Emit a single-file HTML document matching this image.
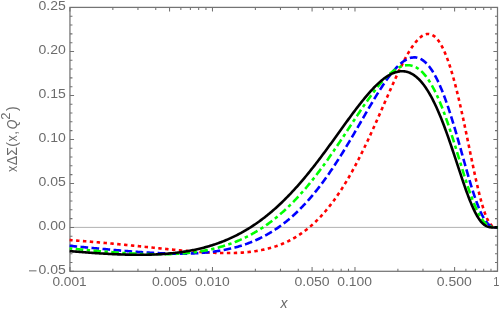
<!DOCTYPE html>
<html><head><meta charset="utf-8"><title>plot</title>
<style>
html,body{margin:0;padding:0;background:#fff;}
body{width:501px;height:312px;overflow:hidden;font-family:"Liberation Sans",sans-serif;}
svg{display:block;}
text{filter:grayscale(1);font-family:"Liberation Sans",sans-serif;fill:#6b6b6b;}
</style></head><body>
<svg width="501" height="312" viewBox="0 0 501 312">
<rect width="501" height="312" fill="#fff"/>

<line x1="70.0" y1="227.4" x2="497.5" y2="227.4" stroke="#a8a8a8" stroke-width="0.9"/>
<g stroke="#727272" stroke-width="1.05" fill="none">
<rect x="69.95" y="7.40" width="427.55" height="263.90" stroke-width="1.25" stroke="#747474"/>
<path d="M69.95 271.38 h4.1 M497.50 271.38 h-4.1"/>
<path d="M69.95 262.59 h2.5 M497.50 262.59 h-2.5"/>
<path d="M69.95 253.79 h2.5 M497.50 253.79 h-2.5"/>
<path d="M69.95 244.99 h2.5 M497.50 244.99 h-2.5"/>
<path d="M69.95 236.20 h2.5 M497.50 236.20 h-2.5"/>
<path d="M69.95 227.40 h4.1 M497.50 227.40 h-4.1"/>
<path d="M69.95 218.60 h2.5 M497.50 218.60 h-2.5"/>
<path d="M69.95 209.81 h2.5 M497.50 209.81 h-2.5"/>
<path d="M69.95 201.01 h2.5 M497.50 201.01 h-2.5"/>
<path d="M69.95 192.21 h2.5 M497.50 192.21 h-2.5"/>
<path d="M69.95 183.42 h4.1 M497.50 183.42 h-4.1"/>
<path d="M69.95 174.62 h2.5 M497.50 174.62 h-2.5"/>
<path d="M69.95 165.82 h2.5 M497.50 165.82 h-2.5"/>
<path d="M69.95 157.03 h2.5 M497.50 157.03 h-2.5"/>
<path d="M69.95 148.23 h2.5 M497.50 148.23 h-2.5"/>
<path d="M69.95 139.43 h4.1 M497.50 139.43 h-4.1"/>
<path d="M69.95 130.64 h2.5 M497.50 130.64 h-2.5"/>
<path d="M69.95 121.84 h2.5 M497.50 121.84 h-2.5"/>
<path d="M69.95 113.04 h2.5 M497.50 113.04 h-2.5"/>
<path d="M69.95 104.25 h2.5 M497.50 104.25 h-2.5"/>
<path d="M69.95 95.45 h4.1 M497.50 95.45 h-4.1"/>
<path d="M69.95 86.65 h2.5 M497.50 86.65 h-2.5"/>
<path d="M69.95 77.86 h2.5 M497.50 77.86 h-2.5"/>
<path d="M69.95 69.06 h2.5 M497.50 69.06 h-2.5"/>
<path d="M69.95 60.26 h2.5 M497.50 60.26 h-2.5"/>
<path d="M69.95 51.47 h4.1 M497.50 51.47 h-4.1"/>
<path d="M69.95 42.67 h2.5 M497.50 42.67 h-2.5"/>
<path d="M69.95 33.87 h2.5 M497.50 33.87 h-2.5"/>
<path d="M69.95 25.08 h2.5 M497.50 25.08 h-2.5"/>
<path d="M69.95 16.28 h2.5 M497.50 16.28 h-2.5"/>
<path d="M69.95 7.48 h4.1 M497.50 7.48 h-4.1"/>
<path d="M69.95 271.3 v-4.2 M69.95 7.4 v4.2"/>
<path d="M112.85 271.3 v-2.6 M112.85 7.4 v2.6"/>
<path d="M137.95 271.3 v-2.6 M137.95 7.4 v2.6"/>
<path d="M155.75 271.3 v-2.6 M155.75 7.4 v2.6"/>
<path d="M169.56 271.3 v-4.2 M169.56 7.4 v4.2"/>
<path d="M180.85 271.3 v-2.6 M180.85 7.4 v2.6"/>
<path d="M190.39 271.3 v-2.6 M190.39 7.4 v2.6"/>
<path d="M198.66 271.3 v-2.6 M198.66 7.4 v2.6"/>
<path d="M205.95 271.3 v-2.6 M205.95 7.4 v2.6"/>
<path d="M212.47 271.3 v-4.2 M212.47 7.4 v4.2"/>
<path d="M255.37 271.3 v-2.6 M255.37 7.4 v2.6"/>
<path d="M280.46 271.3 v-2.6 M280.46 7.4 v2.6"/>
<path d="M298.27 271.3 v-2.6 M298.27 7.4 v2.6"/>
<path d="M312.08 271.3 v-4.2 M312.08 7.4 v4.2"/>
<path d="M323.37 271.3 v-2.6 M323.37 7.4 v2.6"/>
<path d="M332.91 271.3 v-2.6 M332.91 7.4 v2.6"/>
<path d="M341.17 271.3 v-2.6 M341.17 7.4 v2.6"/>
<path d="M348.46 271.3 v-2.6 M348.46 7.4 v2.6"/>
<path d="M354.98 271.3 v-4.2 M354.98 7.4 v4.2"/>
<path d="M397.89 271.3 v-2.6 M397.89 7.4 v2.6"/>
<path d="M422.98 271.3 v-2.6 M422.98 7.4 v2.6"/>
<path d="M440.79 271.3 v-2.6 M440.79 7.4 v2.6"/>
<path d="M454.60 271.3 v-4.2 M454.60 7.4 v4.2"/>
<path d="M465.88 271.3 v-2.6 M465.88 7.4 v2.6"/>
<path d="M475.42 271.3 v-2.6 M475.42 7.4 v2.6"/>
<path d="M483.69 271.3 v-2.6 M483.69 7.4 v2.6"/>
<path d="M490.98 271.3 v-2.6 M490.98 7.4 v2.6"/>
</g>
<g fill="none" stroke-width="2.6" stroke-linejoin="round">
<path d="M69.60 240.06 L70.67 240.14 L71.75 240.22 L72.82 240.30 L73.89 240.38 L74.96 240.47 L76.04 240.55 L77.11 240.63 L78.18 240.72 L79.26 240.80 L80.33 240.88 L81.40 240.97 L82.48 241.06 L83.55 241.14 L84.62 241.23 L85.69 241.32 L86.77 241.40 L87.84 241.49 L88.91 241.58 L89.99 241.67 L91.06 241.76 L92.13 241.85 L93.20 241.94 L94.28 242.03 L95.35 242.12 L96.42 242.22 L97.50 242.31 L98.57 242.40 L99.64 242.50 L100.72 242.59 L101.79 242.69 L102.86 242.78 L103.93 242.88 L105.01 242.97 L106.08 243.07 L107.15 243.17 L108.23 243.26 L109.30 243.36 L110.37 243.46 L111.44 243.56 L112.52 243.66 L113.59 243.76 L114.66 243.86 L115.74 243.96 L116.81 244.06 L117.88 244.16 L118.95 244.26 L120.03 244.37 L121.10 244.47 L122.17 244.57 L123.25 244.68 L124.32 244.78 L125.39 244.88 L126.47 244.99 L127.54 245.09 L128.61 245.20 L129.68 245.30 L130.76 245.41 L131.83 245.52 L132.90 245.62 L133.98 245.73 L135.05 245.84 L136.12 245.94 L137.19 246.05 L138.27 246.16 L139.34 246.27 L140.41 246.38 L141.49 246.48 L142.56 246.59 L143.63 246.70 L144.71 246.81 L145.78 246.92 L146.85 247.03 L147.92 247.14 L149.00 247.25 L150.07 247.36 L151.14 247.47 L152.22 247.57 L153.29 247.68 L154.36 247.79 L155.43 247.90 L156.51 248.01 L157.58 248.12 L158.65 248.23 L159.73 248.34 L160.80 248.45 L161.87 248.56 L162.95 248.66 L164.02 248.77 L165.09 248.88 L166.16 248.99 L167.24 249.09 L168.31 249.20 L169.38 249.31 L170.46 249.41 L171.53 249.52 L172.60 249.62 L173.67 249.73 L174.75 249.83 L175.82 249.93 L176.89 250.04 L177.97 250.14 L179.04 250.24 L180.11 250.34 L181.18 250.44 L182.26 250.54 L183.33 250.63 L184.40 250.73 L185.48 250.83 L186.55 250.92 L187.62 251.01 L188.70 251.11 L189.77 251.20 L190.84 251.29 L191.91 251.37 L192.99 251.46 L194.06 251.55 L195.13 251.63 L196.21 251.71 L197.28 251.79 L198.35 251.87 L199.42 251.95 L200.50 252.03 L201.57 252.10 L202.64 252.17 L203.72 252.24 L204.79 252.31 L205.86 252.37 L206.94 252.43 L208.01 252.49 L209.08 252.55 L210.15 252.61 L211.23 252.66 L212.30 252.71 L213.37 252.76 L214.45 252.80 L215.52 252.84 L216.59 252.88 L217.66 252.92 L218.74 252.95 L219.81 252.98 L220.88 253.00 L221.96 253.02 L223.03 253.04 L224.10 253.06 L225.18 253.06 L226.25 253.07 L227.32 253.07 L228.39 253.07 L229.47 253.06 L230.54 253.05 L231.61 253.03 L232.69 253.01 L233.76 252.99 L234.83 252.96 L235.90 252.92 L236.98 252.88 L238.05 252.83 L239.12 252.78 L240.20 252.72 L241.27 252.66 L242.34 252.59 L243.42 252.51 L244.49 252.43 L245.56 252.34 L246.63 252.24 L247.71 252.14 L248.78 252.02 L249.85 251.91 L250.93 251.78 L252.00 251.65 L253.07 251.51 L254.14 251.36 L255.22 251.20 L256.29 251.04 L257.36 250.86 L258.44 250.68 L259.51 250.49 L260.58 250.29 L261.65 250.07 L262.73 249.85 L263.80 249.62 L264.87 249.38 L265.95 249.13 L267.02 248.87 L268.09 248.60 L269.17 248.32 L270.24 248.02 L271.31 247.72 L272.38 247.40 L273.46 247.07 L274.53 246.73 L275.60 246.38 L276.68 246.01 L277.75 245.63 L278.82 245.24 L279.89 244.83 L280.97 244.41 L282.04 243.98 L283.11 243.53 L284.19 243.06 L285.26 242.59 L286.33 242.09 L287.41 241.58 L288.48 241.06 L289.55 240.52 L290.62 239.96 L291.70 239.39 L292.77 238.80 L293.84 238.19 L294.92 237.56 L295.99 236.92 L297.06 236.26 L298.13 235.58 L299.21 234.88 L300.28 234.17 L301.35 233.43 L302.43 232.67 L303.50 231.90 L304.57 231.10 L305.65 230.29 L306.72 229.45 L307.79 228.59 L308.86 227.71 L309.94 226.81 L311.01 225.88 L312.08 224.94 L313.16 223.97 L314.23 222.98 L315.30 221.96 L316.37 220.93 L317.45 219.86 L318.52 218.78 L319.59 217.67 L320.67 216.53 L321.74 215.37 L322.81 214.19 L323.88 212.98 L324.96 211.74 L326.03 210.48 L327.10 209.19 L328.18 207.88 L329.25 206.54 L330.32 205.17 L331.40 203.78 L332.47 202.36 L333.54 200.91 L334.61 199.44 L335.69 197.93 L336.76 196.40 L337.83 194.85 L338.91 193.26 L339.98 191.65 L341.05 190.01 L342.12 188.34 L343.20 186.64 L344.27 184.92 L345.34 183.16 L346.42 181.38 L347.49 179.57 L348.56 177.74 L349.64 175.87 L350.71 173.98 L351.78 172.06 L352.85 170.12 L353.93 168.15 L355.00 166.15 L356.07 164.12 L357.15 162.07 L358.22 160.00 L359.29 157.90 L360.36 155.77 L361.44 153.62 L362.51 151.45 L363.58 149.25 L364.66 147.03 L365.73 144.79 L366.80 142.53 L367.88 140.25 L368.95 137.95 L370.02 135.63 L371.09 133.29 L372.17 130.94 L373.24 128.57 L374.31 126.19 L375.39 123.79 L376.46 121.38 L377.53 118.96 L378.60 116.53 L379.68 114.10 L380.75 111.65 L381.82 109.20 L382.90 106.75 L383.97 104.30 L385.04 101.84 L386.12 99.39 L387.19 96.94 L388.26 94.50 L389.33 92.06 L390.41 89.64 L391.48 87.23 L392.55 84.83 L393.63 82.45 L394.70 80.09 L395.77 77.75 L396.84 75.43 L397.92 73.15 L398.99 70.89 L400.06 68.67 L401.14 66.48 L402.21 64.33 L403.28 62.23 L404.35 60.17 L405.43 58.16 L406.50 56.20 L407.57 54.30 L408.65 52.46 L409.72 50.68 L410.79 48.97 L411.87 47.33 L412.94 45.76 L414.01 44.27 L415.08 42.87 L416.16 41.55 L417.23 40.32 L418.30 39.19 L419.38 38.15 L420.45 37.22 L421.52 36.40 L422.59 35.68 L423.67 35.09 L424.74 34.61 L425.81 34.25 L426.89 34.03 L427.96 33.93 L429.03 33.97 L430.11 34.15 L431.18 34.48 L432.25 34.95 L433.32 35.57 L434.40 36.34 L435.47 37.28 L436.54 38.37 L437.62 39.62 L438.69 41.05 L439.76 42.63 L440.83 44.39 L441.91 46.32 L442.98 48.43 L444.05 50.71 L445.13 53.16 L446.20 55.79 L447.27 58.59 L448.35 61.57 L449.42 64.72 L450.49 68.04 L451.56 71.52 L452.64 75.18 L453.71 78.99 L454.78 82.96 L455.86 87.09 L456.93 91.35 L458.00 95.76 L459.07 100.30 L460.15 104.96 L461.22 109.74 L462.29 114.62 L463.37 119.59 L464.44 124.64 L465.51 129.75 L466.58 134.92 L467.66 140.12 L468.73 145.35 L469.80 150.58 L470.88 155.79 L471.95 160.97 L473.02 166.10 L474.10 171.15 L475.17 176.11 L476.24 180.96 L477.31 185.66 L478.39 190.21 L479.46 194.57 L480.53 198.73 L481.61 202.66 L482.68 206.35 L483.75 209.77 L484.82 212.90 L485.90 215.74 L486.97 218.27 L488.04 220.47 L489.12 222.35 L490.19 223.91 L491.26 225.15 L492.34 226.08 L493.41 226.73 L494.48 227.13 L495.55 227.34 L496.63 227.40 L497.70 227.40" stroke="#ff0000" stroke-dasharray="3.44 3.44" stroke-dashoffset="0.4"/>
<path d="M69.60 245.85 L70.67 245.95 L71.75 246.05 L72.82 246.15 L73.89 246.25 L74.96 246.35 L76.04 246.45 L77.11 246.55 L78.18 246.65 L79.26 246.76 L80.33 246.86 L81.40 246.96 L82.48 247.06 L83.55 247.16 L84.62 247.26 L85.69 247.36 L86.77 247.46 L87.84 247.56 L88.91 247.66 L89.99 247.76 L91.06 247.86 L92.13 247.97 L93.20 248.07 L94.28 248.17 L95.35 248.27 L96.42 248.37 L97.50 248.47 L98.57 248.57 L99.64 248.67 L100.72 248.76 L101.79 248.86 L102.86 248.96 L103.93 249.06 L105.01 249.16 L106.08 249.26 L107.15 249.35 L108.23 249.45 L109.30 249.55 L110.37 249.65 L111.44 249.74 L112.52 249.84 L113.59 249.93 L114.66 250.03 L115.74 250.12 L116.81 250.22 L117.88 250.31 L118.95 250.40 L120.03 250.49 L121.10 250.58 L122.17 250.68 L123.25 250.77 L124.32 250.85 L125.39 250.94 L126.47 251.03 L127.54 251.12 L128.61 251.20 L129.68 251.29 L130.76 251.37 L131.83 251.46 L132.90 251.54 L133.98 251.62 L135.05 251.70 L136.12 251.78 L137.19 251.86 L138.27 251.94 L139.34 252.02 L140.41 252.09 L141.49 252.17 L142.56 252.24 L143.63 252.31 L144.71 252.38 L145.78 252.45 L146.85 252.52 L147.92 252.58 L149.00 252.65 L150.07 252.71 L151.14 252.77 L152.22 252.83 L153.29 252.89 L154.36 252.95 L155.43 253.00 L156.51 253.05 L157.58 253.10 L158.65 253.15 L159.73 253.20 L160.80 253.25 L161.87 253.29 L162.95 253.33 L164.02 253.37 L165.09 253.41 L166.16 253.44 L167.24 253.47 L168.31 253.50 L169.38 253.53 L170.46 253.55 L171.53 253.58 L172.60 253.60 L173.67 253.61 L174.75 253.63 L175.82 253.64 L176.89 253.65 L177.97 253.65 L179.04 253.65 L180.11 253.65 L181.18 253.65 L182.26 253.64 L183.33 253.63 L184.40 253.62 L185.48 253.60 L186.55 253.58 L187.62 253.56 L188.70 253.53 L189.77 253.50 L190.84 253.46 L191.91 253.42 L192.99 253.38 L194.06 253.33 L195.13 253.28 L196.21 253.22 L197.28 253.16 L198.35 253.10 L199.42 253.03 L200.50 252.96 L201.57 252.88 L202.64 252.79 L203.72 252.71 L204.79 252.61 L205.86 252.51 L206.94 252.41 L208.01 252.30 L209.08 252.19 L210.15 252.07 L211.23 251.94 L212.30 251.81 L213.37 251.67 L214.45 251.53 L215.52 251.38 L216.59 251.23 L217.66 251.06 L218.74 250.90 L219.81 250.72 L220.88 250.54 L221.96 250.35 L223.03 250.16 L224.10 249.96 L225.18 249.75 L226.25 249.53 L227.32 249.31 L228.39 249.08 L229.47 248.84 L230.54 248.59 L231.61 248.34 L232.69 248.07 L233.76 247.80 L234.83 247.52 L235.90 247.24 L236.98 246.94 L238.05 246.64 L239.12 246.32 L240.20 246.00 L241.27 245.67 L242.34 245.33 L243.42 244.98 L244.49 244.62 L245.56 244.25 L246.63 243.87 L247.71 243.48 L248.78 243.08 L249.85 242.66 L250.93 242.24 L252.00 241.81 L253.07 241.37 L254.14 240.92 L255.22 240.45 L256.29 239.97 L257.36 239.49 L258.44 238.99 L259.51 238.48 L260.58 237.95 L261.65 237.42 L262.73 236.87 L263.80 236.31 L264.87 235.74 L265.95 235.15 L267.02 234.56 L268.09 233.95 L269.17 233.32 L270.24 232.68 L271.31 232.03 L272.38 231.37 L273.46 230.69 L274.53 230.00 L275.60 229.29 L276.68 228.57 L277.75 227.83 L278.82 227.08 L279.89 226.31 L280.97 225.53 L282.04 224.74 L283.11 223.93 L284.19 223.10 L285.26 222.26 L286.33 221.40 L287.41 220.53 L288.48 219.64 L289.55 218.73 L290.62 217.81 L291.70 216.87 L292.77 215.92 L293.84 214.95 L294.92 213.96 L295.99 212.96 L297.06 211.94 L298.13 210.90 L299.21 209.84 L300.28 208.77 L301.35 207.68 L302.43 206.57 L303.50 205.45 L304.57 204.30 L305.65 203.14 L306.72 201.97 L307.79 200.77 L308.86 199.56 L309.94 198.33 L311.01 197.08 L312.08 195.81 L313.16 194.53 L314.23 193.23 L315.30 191.91 L316.37 190.57 L317.45 189.21 L318.52 187.84 L319.59 186.45 L320.67 185.04 L321.74 183.62 L322.81 182.17 L323.88 180.71 L324.96 179.24 L326.03 177.74 L327.10 176.23 L328.18 174.70 L329.25 173.16 L330.32 171.60 L331.40 170.02 L332.47 168.43 L333.54 166.82 L334.61 165.20 L335.69 163.56 L336.76 161.91 L337.83 160.24 L338.91 158.56 L339.98 156.86 L341.05 155.16 L342.12 153.44 L343.20 151.70 L344.27 149.96 L345.34 148.20 L346.42 146.43 L347.49 144.65 L348.56 142.86 L349.64 141.07 L350.71 139.26 L351.78 137.45 L352.85 135.62 L353.93 133.80 L355.00 131.96 L356.07 130.12 L357.15 128.28 L358.22 126.43 L359.29 124.58 L360.36 122.73 L361.44 120.87 L362.51 119.02 L363.58 117.17 L364.66 115.32 L365.73 113.47 L366.80 111.63 L367.88 109.79 L368.95 107.96 L370.02 106.13 L371.09 104.32 L372.17 102.51 L373.24 100.72 L374.31 98.94 L375.39 97.17 L376.46 95.42 L377.53 93.68 L378.60 91.97 L379.68 90.27 L380.75 88.60 L381.82 86.95 L382.90 85.32 L383.97 83.72 L385.04 82.15 L386.12 80.60 L387.19 79.09 L388.26 77.61 L389.33 76.17 L390.41 74.77 L391.48 73.40 L392.55 72.08 L393.63 70.79 L394.70 69.56 L395.77 68.37 L396.84 67.23 L397.92 66.14 L398.99 65.10 L400.06 64.12 L401.14 63.20 L402.21 62.33 L403.28 61.53 L404.35 60.79 L405.43 60.12 L406.50 59.52 L407.57 58.99 L408.65 58.53 L409.72 58.14 L410.79 57.83 L411.87 57.60 L412.94 57.46 L414.01 57.39 L415.08 57.41 L416.16 57.52 L417.23 57.72 L418.30 58.01 L419.38 58.39 L420.45 58.86 L421.52 59.44 L422.59 60.11 L423.67 60.88 L424.74 61.76 L425.81 62.73 L426.89 63.81 L427.96 65.00 L429.03 66.29 L430.11 67.69 L431.18 69.20 L432.25 70.81 L433.32 72.53 L434.40 74.37 L435.47 76.31 L436.54 78.36 L437.62 80.52 L438.69 82.79 L439.76 85.16 L440.83 87.64 L441.91 90.23 L442.98 92.91 L444.05 95.70 L445.13 98.59 L446.20 101.57 L447.27 104.64 L448.35 107.80 L449.42 111.05 L450.49 114.38 L451.56 117.79 L452.64 121.27 L453.71 124.82 L454.78 128.43 L455.86 132.09 L456.93 135.80 L458.00 139.55 L459.07 143.34 L460.15 147.16 L461.22 150.99 L462.29 154.83 L463.37 158.68 L464.44 162.51 L465.51 166.33 L466.58 170.11 L467.66 173.86 L468.73 177.56 L469.80 181.20 L470.88 184.77 L471.95 188.26 L473.02 191.65 L474.10 194.94 L475.17 198.11 L476.24 201.15 L477.31 204.06 L478.39 206.82 L479.46 209.43 L480.53 211.87 L481.61 214.14 L482.68 216.23 L483.75 218.14 L484.82 219.86 L485.90 221.38 L486.97 222.72 L488.04 223.87 L489.12 224.84 L490.19 225.63 L491.26 226.25 L492.34 226.71 L493.41 227.04 L494.48 227.25 L495.55 227.36 L496.63 227.40 L497.70 227.40" stroke="#0000ff" stroke-dasharray="7.65 3.4" stroke-dashoffset="0.1"/>
<path d="M69.60 248.45 L70.67 248.55 L71.75 248.66 L72.82 248.76 L73.89 248.86 L74.96 248.96 L76.04 249.06 L77.11 249.16 L78.18 249.26 L79.26 249.36 L80.33 249.46 L81.40 249.56 L82.48 249.66 L83.55 249.76 L84.62 249.86 L85.69 249.96 L86.77 250.06 L87.84 250.16 L88.91 250.25 L89.99 250.35 L91.06 250.45 L92.13 250.54 L93.20 250.64 L94.28 250.73 L95.35 250.83 L96.42 250.92 L97.50 251.01 L98.57 251.11 L99.64 251.20 L100.72 251.29 L101.79 251.38 L102.86 251.47 L103.93 251.56 L105.01 251.65 L106.08 251.73 L107.15 251.82 L108.23 251.90 L109.30 251.99 L110.37 252.07 L111.44 252.16 L112.52 252.24 L113.59 252.32 L114.66 252.40 L115.74 252.48 L116.81 252.55 L117.88 252.63 L118.95 252.70 L120.03 252.78 L121.10 252.85 L122.17 252.92 L123.25 252.99 L124.32 253.06 L125.39 253.13 L126.47 253.19 L127.54 253.26 L128.61 253.32 L129.68 253.38 L130.76 253.44 L131.83 253.50 L132.90 253.56 L133.98 253.61 L135.05 253.66 L136.12 253.71 L137.19 253.76 L138.27 253.81 L139.34 253.85 L140.41 253.90 L141.49 253.94 L142.56 253.98 L143.63 254.02 L144.71 254.05 L145.78 254.08 L146.85 254.11 L147.92 254.14 L149.00 254.17 L150.07 254.19 L151.14 254.21 L152.22 254.23 L153.29 254.24 L154.36 254.25 L155.43 254.26 L156.51 254.27 L157.58 254.27 L158.65 254.28 L159.73 254.27 L160.80 254.27 L161.87 254.26 L162.95 254.25 L164.02 254.24 L165.09 254.22 L166.16 254.20 L167.24 254.17 L168.31 254.14 L169.38 254.11 L170.46 254.08 L171.53 254.04 L172.60 254.00 L173.67 253.95 L174.75 253.90 L175.82 253.84 L176.89 253.79 L177.97 253.72 L179.04 253.66 L180.11 253.58 L181.18 253.51 L182.26 253.43 L183.33 253.34 L184.40 253.25 L185.48 253.16 L186.55 253.06 L187.62 252.96 L188.70 252.85 L189.77 252.73 L190.84 252.62 L191.91 252.49 L192.99 252.36 L194.06 252.23 L195.13 252.09 L196.21 251.94 L197.28 251.79 L198.35 251.63 L199.42 251.47 L200.50 251.30 L201.57 251.12 L202.64 250.94 L203.72 250.75 L204.79 250.56 L205.86 250.36 L206.94 250.15 L208.01 249.93 L209.08 249.71 L210.15 249.49 L211.23 249.25 L212.30 249.01 L213.37 248.76 L214.45 248.50 L215.52 248.24 L216.59 247.97 L217.66 247.69 L218.74 247.40 L219.81 247.11 L220.88 246.81 L221.96 246.49 L223.03 246.18 L224.10 245.85 L225.18 245.51 L226.25 245.17 L227.32 244.82 L228.39 244.45 L229.47 244.08 L230.54 243.70 L231.61 243.32 L232.69 242.92 L233.76 242.51 L234.83 242.09 L235.90 241.67 L236.98 241.23 L238.05 240.78 L239.12 240.33 L240.20 239.86 L241.27 239.39 L242.34 238.90 L243.42 238.40 L244.49 237.90 L245.56 237.38 L246.63 236.85 L247.71 236.31 L248.78 235.76 L249.85 235.20 L250.93 234.62 L252.00 234.04 L253.07 233.44 L254.14 232.84 L255.22 232.22 L256.29 231.59 L257.36 230.94 L258.44 230.29 L259.51 229.62 L260.58 228.94 L261.65 228.25 L262.73 227.55 L263.80 226.83 L264.87 226.10 L265.95 225.36 L267.02 224.60 L268.09 223.84 L269.17 223.06 L270.24 222.26 L271.31 221.45 L272.38 220.63 L273.46 219.80 L274.53 218.95 L275.60 218.09 L276.68 217.22 L277.75 216.33 L278.82 215.43 L279.89 214.51 L280.97 213.58 L282.04 212.64 L283.11 211.68 L284.19 210.71 L285.26 209.72 L286.33 208.72 L287.41 207.70 L288.48 206.68 L289.55 205.63 L290.62 204.58 L291.70 203.50 L292.77 202.42 L293.84 201.32 L294.92 200.20 L295.99 199.08 L297.06 197.93 L298.13 196.77 L299.21 195.60 L300.28 194.42 L301.35 193.22 L302.43 192.00 L303.50 190.77 L304.57 189.53 L305.65 188.28 L306.72 187.01 L307.79 185.72 L308.86 184.42 L309.94 183.11 L311.01 181.79 L312.08 180.45 L313.16 179.10 L314.23 177.73 L315.30 176.36 L316.37 174.97 L317.45 173.56 L318.52 172.15 L319.59 170.72 L320.67 169.28 L321.74 167.83 L322.81 166.37 L323.88 164.89 L324.96 163.41 L326.03 161.91 L327.10 160.41 L328.18 158.89 L329.25 157.36 L330.32 155.83 L331.40 154.28 L332.47 152.73 L333.54 151.17 L334.61 149.60 L335.69 148.02 L336.76 146.43 L337.83 144.84 L338.91 143.24 L339.98 141.64 L341.05 140.03 L342.12 138.42 L343.20 136.80 L344.27 135.18 L345.34 133.55 L346.42 131.92 L347.49 130.29 L348.56 128.66 L349.64 127.03 L350.71 125.40 L351.78 123.77 L352.85 122.14 L353.93 120.51 L355.00 118.89 L356.07 117.27 L357.15 115.65 L358.22 114.04 L359.29 112.44 L360.36 110.84 L361.44 109.25 L362.51 107.67 L363.58 106.10 L364.66 104.54 L365.73 102.99 L366.80 101.45 L367.88 99.93 L368.95 98.43 L370.02 96.94 L371.09 95.46 L372.17 94.01 L373.24 92.57 L374.31 91.16 L375.39 89.77 L376.46 88.40 L377.53 87.05 L378.60 85.73 L379.68 84.44 L380.75 83.18 L381.82 81.94 L382.90 80.74 L383.97 79.57 L385.04 78.43 L386.12 77.33 L387.19 76.27 L388.26 75.24 L389.33 74.26 L390.41 73.31 L391.48 72.41 L392.55 71.56 L393.63 70.75 L394.70 69.99 L395.77 69.28 L396.84 68.62 L397.92 68.01 L398.99 67.46 L400.06 66.96 L401.14 66.52 L402.21 66.14 L403.28 65.82 L404.35 65.57 L405.43 65.38 L406.50 65.25 L407.57 65.20 L408.65 65.21 L409.72 65.30 L410.79 65.46 L411.87 65.69 L412.94 66.00 L414.01 66.38 L415.08 66.85 L416.16 67.40 L417.23 68.02 L418.30 68.74 L419.38 69.53 L420.45 70.41 L421.52 71.38 L422.59 72.44 L423.67 73.59 L424.74 74.83 L425.81 76.15 L426.89 77.57 L427.96 79.08 L429.03 80.69 L430.11 82.39 L431.18 84.18 L432.25 86.06 L433.32 88.04 L434.40 90.10 L435.47 92.26 L436.54 94.52 L437.62 96.86 L438.69 99.29 L439.76 101.81 L440.83 104.41 L441.91 107.10 L442.98 109.87 L444.05 112.72 L445.13 115.64 L446.20 118.64 L447.27 121.71 L448.35 124.84 L449.42 128.04 L450.49 131.29 L451.56 134.59 L452.64 137.95 L453.71 141.34 L454.78 144.77 L455.86 148.22 L456.93 151.70 L458.00 155.20 L459.07 158.70 L460.15 162.21 L461.22 165.70 L462.29 169.18 L463.37 172.64 L464.44 176.06 L465.51 179.43 L466.58 182.76 L467.66 186.02 L468.73 189.21 L469.80 192.33 L470.88 195.35 L471.95 198.27 L473.02 201.08 L474.10 203.78 L475.17 206.35 L476.24 208.78 L477.31 211.08 L478.39 213.22 L479.46 215.22 L480.53 217.06 L481.61 218.74 L482.68 220.25 L483.75 221.61 L484.82 222.80 L485.90 223.83 L486.97 224.71 L488.04 225.44 L489.12 226.03 L490.19 226.50 L491.26 226.84 L492.34 227.09 L493.41 227.25 L494.48 227.34 L495.55 227.39 L496.63 227.40 L497.70 227.40" stroke="#00ff00" stroke-dasharray="3.4 3.4 7.65 3.4" stroke-dashoffset="0.7"/>
<path d="M69.60 251.10 L70.67 251.19 L71.75 251.28 L72.82 251.37 L73.89 251.46 L74.96 251.55 L76.04 251.63 L77.11 251.72 L78.18 251.81 L79.26 251.89 L80.33 251.98 L81.40 252.06 L82.48 252.15 L83.55 252.23 L84.62 252.31 L85.69 252.39 L86.77 252.47 L87.84 252.55 L88.91 252.63 L89.99 252.71 L91.06 252.79 L92.13 252.86 L93.20 252.94 L94.28 253.01 L95.35 253.08 L96.42 253.16 L97.50 253.23 L98.57 253.30 L99.64 253.37 L100.72 253.43 L101.79 253.50 L102.86 253.57 L103.93 253.63 L105.01 253.69 L106.08 253.75 L107.15 253.81 L108.23 253.87 L109.30 253.93 L110.37 253.98 L111.44 254.04 L112.52 254.09 L113.59 254.14 L114.66 254.19 L115.74 254.24 L116.81 254.28 L117.88 254.33 L118.95 254.37 L120.03 254.41 L121.10 254.45 L122.17 254.49 L123.25 254.52 L124.32 254.56 L125.39 254.59 L126.47 254.62 L127.54 254.64 L128.61 254.67 L129.68 254.69 L130.76 254.71 L131.83 254.73 L132.90 254.74 L133.98 254.76 L135.05 254.77 L136.12 254.78 L137.19 254.78 L138.27 254.79 L139.34 254.79 L140.41 254.78 L141.49 254.78 L142.56 254.77 L143.63 254.76 L144.71 254.75 L145.78 254.73 L146.85 254.71 L147.92 254.69 L149.00 254.66 L150.07 254.64 L151.14 254.60 L152.22 254.57 L153.29 254.53 L154.36 254.49 L155.43 254.44 L156.51 254.39 L157.58 254.34 L158.65 254.28 L159.73 254.22 L160.80 254.16 L161.87 254.09 L162.95 254.02 L164.02 253.95 L165.09 253.87 L166.16 253.78 L167.24 253.69 L168.31 253.60 L169.38 253.51 L170.46 253.40 L171.53 253.30 L172.60 253.19 L173.67 253.07 L174.75 252.96 L175.82 252.83 L176.89 252.70 L177.97 252.57 L179.04 252.43 L180.11 252.28 L181.18 252.13 L182.26 251.98 L183.33 251.82 L184.40 251.65 L185.48 251.48 L186.55 251.31 L187.62 251.13 L188.70 250.94 L189.77 250.74 L190.84 250.54 L191.91 250.34 L192.99 250.13 L194.06 249.91 L195.13 249.68 L196.21 249.45 L197.28 249.22 L198.35 248.97 L199.42 248.72 L200.50 248.47 L201.57 248.20 L202.64 247.93 L203.72 247.65 L204.79 247.37 L205.86 247.08 L206.94 246.78 L208.01 246.47 L209.08 246.16 L210.15 245.83 L211.23 245.51 L212.30 245.17 L213.37 244.82 L214.45 244.47 L215.52 244.11 L216.59 243.74 L217.66 243.36 L218.74 242.98 L219.81 242.58 L220.88 242.18 L221.96 241.77 L223.03 241.35 L224.10 240.92 L225.18 240.48 L226.25 240.04 L227.32 239.58 L228.39 239.11 L229.47 238.64 L230.54 238.16 L231.61 237.66 L232.69 237.16 L233.76 236.65 L234.83 236.13 L235.90 235.59 L236.98 235.05 L238.05 234.50 L239.12 233.94 L240.20 233.36 L241.27 232.78 L242.34 232.19 L243.42 231.58 L244.49 230.97 L245.56 230.34 L246.63 229.71 L247.71 229.06 L248.78 228.40 L249.85 227.73 L250.93 227.05 L252.00 226.36 L253.07 225.66 L254.14 224.94 L255.22 224.22 L256.29 223.48 L257.36 222.73 L258.44 221.97 L259.51 221.20 L260.58 220.42 L261.65 219.62 L262.73 218.81 L263.80 218.00 L264.87 217.16 L265.95 216.32 L267.02 215.46 L268.09 214.60 L269.17 213.72 L270.24 212.83 L271.31 211.92 L272.38 211.00 L273.46 210.07 L274.53 209.13 L275.60 208.18 L276.68 207.21 L277.75 206.23 L278.82 205.24 L279.89 204.24 L280.97 203.22 L282.04 202.20 L283.11 201.16 L284.19 200.10 L285.26 199.04 L286.33 197.96 L287.41 196.87 L288.48 195.77 L289.55 194.65 L290.62 193.52 L291.70 192.39 L292.77 191.23 L293.84 190.07 L294.92 188.90 L295.99 187.71 L297.06 186.51 L298.13 185.30 L299.21 184.08 L300.28 182.84 L301.35 181.60 L302.43 180.34 L303.50 179.08 L304.57 177.80 L305.65 176.51 L306.72 175.21 L307.79 173.90 L308.86 172.58 L309.94 171.25 L311.01 169.91 L312.08 168.56 L313.16 167.20 L314.23 165.83 L315.30 164.45 L316.37 163.07 L317.45 161.67 L318.52 160.27 L319.59 158.86 L320.67 157.44 L321.74 156.01 L322.81 154.58 L323.88 153.14 L324.96 151.69 L326.03 150.24 L327.10 148.78 L328.18 147.32 L329.25 145.85 L330.32 144.38 L331.40 142.91 L332.47 141.43 L333.54 139.94 L334.61 138.46 L335.69 136.97 L336.76 135.48 L337.83 133.99 L338.91 132.50 L339.98 131.00 L341.05 129.51 L342.12 128.02 L343.20 126.53 L344.27 125.05 L345.34 123.56 L346.42 122.08 L347.49 120.61 L348.56 119.14 L349.64 117.67 L350.71 116.21 L351.78 114.76 L352.85 113.31 L353.93 111.87 L355.00 110.45 L356.07 109.03 L357.15 107.62 L358.22 106.22 L359.29 104.84 L360.36 103.47 L361.44 102.11 L362.51 100.77 L363.58 99.44 L364.66 98.13 L365.73 96.84 L366.80 95.57 L367.88 94.32 L368.95 93.08 L370.02 91.87 L371.09 90.68 L372.17 89.52 L373.24 88.38 L374.31 87.27 L375.39 86.18 L376.46 85.12 L377.53 84.09 L378.60 83.09 L379.68 82.12 L380.75 81.19 L381.82 80.28 L382.90 79.42 L383.97 78.59 L385.04 77.79 L386.12 77.04 L387.19 76.32 L388.26 75.65 L389.33 75.02 L390.41 74.43 L391.48 73.89 L392.55 73.39 L393.63 72.94 L394.70 72.54 L395.77 72.19 L396.84 71.90 L397.92 71.65 L398.99 71.46 L400.06 71.32 L401.14 71.24 L402.21 71.22 L403.28 71.26 L404.35 71.36 L405.43 71.52 L406.50 71.74 L407.57 72.03 L408.65 72.38 L409.72 72.80 L410.79 73.29 L411.87 73.84 L412.94 74.47 L414.01 75.17 L415.08 75.94 L416.16 76.78 L417.23 77.70 L418.30 78.69 L419.38 79.76 L420.45 80.90 L421.52 82.13 L422.59 83.43 L423.67 84.81 L424.74 86.26 L425.81 87.80 L426.89 89.42 L427.96 91.11 L429.03 92.89 L430.11 94.75 L431.18 96.68 L432.25 98.70 L433.32 100.79 L434.40 102.97 L435.47 105.22 L436.54 107.54 L437.62 109.94 L438.69 112.42 L439.76 114.97 L440.83 117.58 L441.91 120.27 L442.98 123.02 L444.05 125.83 L445.13 128.71 L446.20 131.64 L447.27 134.62 L448.35 137.66 L449.42 140.74 L450.49 143.86 L451.56 147.02 L452.64 150.21 L453.71 153.43 L454.78 156.67 L455.86 159.92 L456.93 163.18 L458.00 166.45 L459.07 169.70 L460.15 172.95 L461.22 176.17 L462.29 179.37 L463.37 182.53 L464.44 185.64 L465.51 188.70 L466.58 191.69 L467.66 194.62 L468.73 197.46 L469.80 200.21 L470.88 202.87 L471.95 205.41 L473.02 207.85 L474.10 210.15 L475.17 212.33 L476.24 214.37 L477.31 216.26 L478.39 218.01 L479.46 219.60 L480.53 221.04 L481.61 222.31 L482.68 223.43 L483.75 224.40 L484.82 225.21 L485.90 225.88 L486.97 226.41 L488.04 226.82 L489.12 227.11 L490.19 227.30 L491.26 227.41 L492.34 227.46 L493.41 227.46 L494.48 227.44 L495.55 227.42 L496.63 227.40 L497.70 227.40" stroke="#000000"/>
</g>
<g font-size="13.6">
<text transform="translate(38.46 10.45) scale(1.0327 1)">0.25</text>
<text transform="translate(38.46 54.45) scale(1.0327 1)">0.20</text>
<text transform="translate(38.46 98.45) scale(1.0327 1)">0.15</text>
<text transform="translate(38.46 142.45) scale(1.0327 1)">0.10</text>
<text transform="translate(38.46 186.45) scale(1.0327 1)">0.05</text>
<text transform="translate(38.46 230.45) scale(1.0327 1)">0.00</text>
<text transform="translate(38.46 274.45) scale(1.0327 1)">0.05</text>
<text transform="translate(52.48 286.10) scale(1.0037 1)">0.001</text>
<text transform="translate(151.96 286.10) scale(1.0347 1)">0.005</text>
<text transform="translate(195.07 286.10) scale(1.0196 1)">0.010</text>
<text transform="translate(294.46 286.10) scale(1.0318 1)">0.050</text>
<text transform="translate(337.27 286.10) scale(1.0226 1)">0.100</text>
<text transform="translate(436.76 286.10) scale(1.0287 1)">0.500</text>
<text transform="translate(493.17 286.10) scale(0.8125 1)">1</text>
</g>
<rect x="29.0" y="270.35" width="7.5" height="1.0" fill="#6b6b6b"/>
<text x="283.9" y="308" font-size="14" font-style="italic" text-anchor="middle">x</text>
<g transform="translate(17.1 171.9) rotate(-90)">
<text transform="translate(-0.22 0.00) scale(0.892 1)" font-size="14">x</text>
<text transform="translate(6.72 0.00) scale(1.000 1)" font-size="14">Δ</text>
<text transform="translate(16.14 0.00) scale(1.017 1)" font-size="14">Σ</text>
<text transform="translate(25.26 0.00) scale(1.000 1)" font-size="14">(</text>
<text transform="translate(30.48 0.00) scale(0.892 1)" font-size="14">x</text>
<text transform="translate(37.11 0.00) scale(1.000 1)" font-size="14">,</text>
<text transform="translate(42.54 0.00) scale(0.883 1)" font-size="14" font-style="italic">Q</text>
<text transform="translate(52.20 -7.00) scale(1.091 1)" font-size="12">2</text>
<text transform="translate(60.96 0.00) scale(1.000 1)" font-size="14">)</text>
</g>
</svg></body></html>
